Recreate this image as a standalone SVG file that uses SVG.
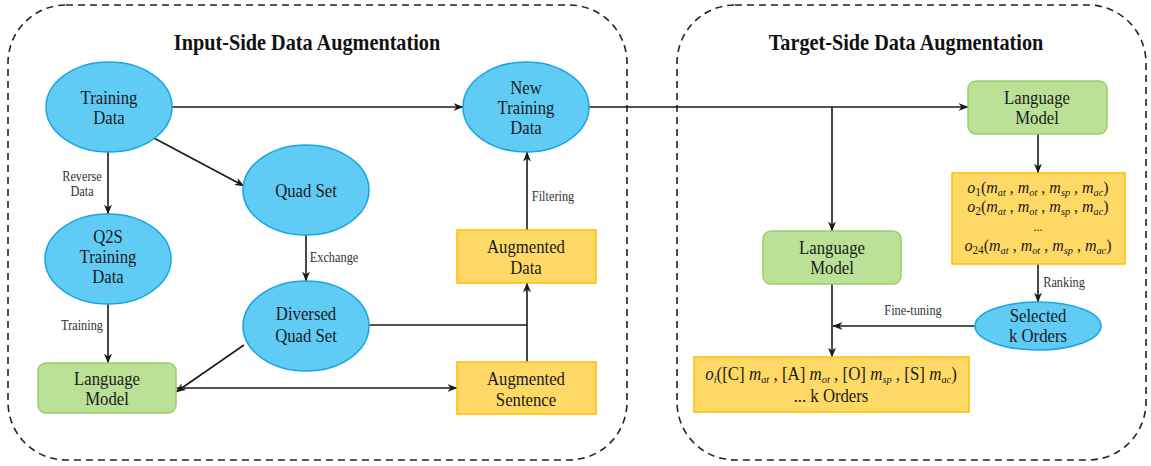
<svg xmlns="http://www.w3.org/2000/svg" width="1151" height="466" viewBox="0 0 1151 466">
  <style>
    .frame { fill: none; stroke: #222; stroke-width: 1.6; stroke-dasharray: 7 5; }
    text { font-family: "Liberation Serif", "Times New Roman", serif; fill: #1a1a1a; transform-box: fill-box; transform-origin: center; transform: scaleX(0.88); }
    .title { font-weight: bold; font-size: 23px; fill: #111; text-anchor: middle; }
    .ell { fill: #60cbf4; stroke: #18a6e3; stroke-width: 1.5; }
    .green { fill: #bbe197; stroke: #93d06c; stroke-width: 1.5; }
    .yellow { fill: #ffd966; stroke: #ffbf00; stroke-width: 1.5; }
    .lbl { font-size: 19px; text-anchor: middle; }
    .math { font-size: 17px; text-anchor: middle; transform: scaleX(0.94); }
    .math.big { font-size: 18px; }
    .math.dots { font-size: 13px; }
    .small { font-size: 14px; fill: #333; }
    .edge { fill: none; stroke: #1a1a1a; stroke-width: 1.6; }
    .arr { marker-end: url(#ah); }
    .i { font-style: italic; }
  </style>
  <defs>
    <marker id="ah" viewBox="0 0 10 8" refX="9.5" refY="4" markerWidth="10" markerHeight="8" markerUnits="userSpaceOnUse" orient="auto">
      <path d="M0,0 L10,4 L0,8 L3,4 z" fill="#1a1a1a"/>
    </marker>
  </defs>
  <rect width="1151" height="466" fill="#fff"/>

  <!-- section frames -->
  <g id="input-side">
    <rect class="frame" x="8" y="5" width="619" height="455" rx="58"/>
    <text class="title" x="307" y="50">Input-Side Data Augmentation</text>
  </g>
  <g id="target-side">
    <rect class="frame" x="677" y="5" width="469" height="455" rx="58"/>
    <text class="title" x="906" y="50">Target-Side Data Augmentation</text>
  </g>

  <!-- connectors -->
  <g id="connectors">
    <line class="edge arr" x1="172" y1="107" x2="463" y2="107"/>
    <line class="edge arr" x1="152" y1="137" x2="244" y2="186"/>
    <line class="edge arr" x1="108" y1="152" x2="108" y2="214"/>
    <line class="edge arr" x1="306" y1="235" x2="306" y2="281"/>
    <line class="edge arr" x1="108" y1="304" x2="108" y2="363"/>
    <line class="edge arr" x1="244" y1="345" x2="176" y2="392"/>
    <line class="edge arr" x1="176" y1="388" x2="457" y2="388"/>
    <line class="edge" x1="369" y1="325" x2="527" y2="325"/>
    <line class="edge arr" x1="527" y1="362" x2="527" y2="283"/>
    <line class="edge arr" x1="527" y1="230" x2="527" y2="152"/>
    <line class="edge arr" x1="589" y1="107" x2="968" y2="107"/>
    <line class="edge arr" x1="832" y1="107" x2="832" y2="231"/>
    <line class="edge arr" x1="1038" y1="134" x2="1038" y2="173"/>
    <line class="edge arr" x1="1038" y1="264" x2="1038" y2="302"/>
    <line class="edge arr" x1="975" y1="326" x2="833" y2="326"/>
    <line class="edge arr" x1="832" y1="284" x2="832" y2="357"/>

    <text class="small" x="82" y="181" text-anchor="middle">Reverse</text>
    <text class="small" x="82" y="196" text-anchor="middle">Data</text>
    <text class="small" x="82" y="330" text-anchor="middle">Training</text>
    <text class="small" x="334" y="262" text-anchor="middle">Exchange</text>
    <text class="small" x="553" y="201" text-anchor="middle">Filtering</text>
    <text class="small" x="1064" y="287" text-anchor="middle">Ranking</text>
    <text class="small" x="913" y="315" text-anchor="middle">Fine-tuning</text>
  </g>

  <!-- input-side nodes -->
  <g id="training-data">
    <ellipse class="ell" cx="109" cy="107" rx="63" ry="45"/>
    <text class="lbl" x="109" y="104">Training</text>
    <text class="lbl" x="109" y="124">Data</text>
  </g>
  <g id="new-training-data">
    <ellipse class="ell" cx="526" cy="107" rx="63" ry="45"/>
    <text class="lbl" x="526" y="94">New</text>
    <text class="lbl" x="526" y="114">Training</text>
    <text class="lbl" x="526" y="134">Data</text>
  </g>
  <g id="quad-set">
    <ellipse class="ell" cx="306" cy="190" rx="63" ry="45"/>
    <text class="lbl" x="306" y="197">Quad Set</text>
  </g>
  <g id="q2s-training-data">
    <ellipse class="ell" cx="108" cy="259" rx="63" ry="45"/>
    <text class="lbl" x="108" y="243">Q2S</text>
    <text class="lbl" x="108" y="263">Training</text>
    <text class="lbl" x="108" y="283">Data</text>
  </g>
  <g id="diversed-quad-set">
    <ellipse class="ell" cx="306" cy="326" rx="63" ry="45"/>
    <text class="lbl" x="306" y="320">Diversed</text>
    <text class="lbl" x="306" y="342">Quad Set</text>
  </g>
  <g id="language-model-left">
    <rect class="green" x="38" y="363" width="138" height="50" rx="8"/>
    <text class="lbl" x="107" y="385">Language</text>
    <text class="lbl" x="107" y="405">Model</text>
  </g>
  <g id="augmented-data">
    <rect class="yellow" x="457" y="230" width="139" height="53"/>
    <text class="lbl" x="526" y="253">Augmented</text>
    <text class="lbl" x="526" y="274">Data</text>
  </g>
  <g id="augmented-sentence">
    <rect class="yellow" x="457" y="362" width="139" height="52"/>
    <text class="lbl" x="526" y="385">Augmented</text>
    <text class="lbl" x="526" y="406">Sentence</text>
  </g>

  <!-- target-side nodes -->
  <g id="language-model-top">
    <rect class="green" x="968" y="81" width="139" height="53" rx="8"/>
    <text class="lbl" x="1037" y="104">Language</text>
    <text class="lbl" x="1037" y="124">Model</text>
  </g>
  <g id="order-candidates">
    <rect class="yellow" x="952" y="173" width="173" height="91"/>
    <text class="math" x="1038" y="193"><tspan class="i">o</tspan><tspan dy="3" font-size="12">1</tspan><tspan dy="-3">(</tspan><tspan class="i">m</tspan><tspan class="i" dy="3" font-size="11">at</tspan><tspan dy="-3"> , </tspan><tspan class="i">m</tspan><tspan class="i" dy="3" font-size="11">ot</tspan><tspan dy="-3"> , </tspan><tspan class="i">m</tspan><tspan class="i" dy="3" font-size="11">sp</tspan><tspan dy="-3"> , </tspan><tspan class="i">m</tspan><tspan class="i" dy="3" font-size="11">ac</tspan><tspan dy="-3">)</tspan></text>
    <text class="math" x="1038" y="212"><tspan class="i">o</tspan><tspan dy="3" font-size="12">2</tspan><tspan dy="-3">(</tspan><tspan class="i">m</tspan><tspan class="i" dy="3" font-size="11">at</tspan><tspan dy="-3"> , </tspan><tspan class="i">m</tspan><tspan class="i" dy="3" font-size="11">ot</tspan><tspan dy="-3"> , </tspan><tspan class="i">m</tspan><tspan class="i" dy="3" font-size="11">sp</tspan><tspan dy="-3"> , </tspan><tspan class="i">m</tspan><tspan class="i" dy="3" font-size="11">ac</tspan><tspan dy="-3">)</tspan></text>
    <text class="math dots" x="1038" y="231">...</text>
    <text class="math" x="1038" y="251"><tspan class="i">o</tspan><tspan dy="3" font-size="12">24</tspan><tspan dy="-3">(</tspan><tspan class="i">m</tspan><tspan class="i" dy="3" font-size="11">at</tspan><tspan dy="-3"> , </tspan><tspan class="i">m</tspan><tspan class="i" dy="3" font-size="11">ot</tspan><tspan dy="-3"> , </tspan><tspan class="i">m</tspan><tspan class="i" dy="3" font-size="11">sp</tspan><tspan dy="-3"> , </tspan><tspan class="i">m</tspan><tspan class="i" dy="3" font-size="11">ac</tspan><tspan dy="-3">)</tspan></text>
  </g>
  <g id="language-model-mid">
    <rect class="green" x="763" y="231" width="138" height="53" rx="8"/>
    <text class="lbl" x="832" y="254">Language</text>
    <text class="lbl" x="832" y="274">Model</text>
  </g>
  <g id="selected-orders">
    <ellipse class="ell" cx="1038" cy="326" rx="63" ry="24"/>
    <text class="lbl" x="1038" y="322">Selected</text>
    <text class="lbl" x="1038" y="342">k Orders</text>
  </g>
  <g id="ordered-targets">
    <rect class="yellow" x="694" y="357" width="275" height="55"/>
    <text class="math big" x="831" y="380"><tspan class="i">o</tspan><tspan class="i" dy="3" font-size="11">i</tspan><tspan dy="-3">([C] </tspan><tspan class="i">m</tspan><tspan class="i" dy="3" font-size="11">at</tspan><tspan dy="-3"> , [A] </tspan><tspan class="i">m</tspan><tspan class="i" dy="3" font-size="11">ot</tspan><tspan dy="-3"> , [O] </tspan><tspan class="i">m</tspan><tspan class="i" dy="3" font-size="11">sp</tspan><tspan dy="-3"> , [S] </tspan><tspan class="i">m</tspan><tspan class="i" dy="3" font-size="11">ac</tspan><tspan dy="-3">)</tspan></text>
    <text class="lbl" x="831" y="402">...  k Orders</text>
  </g>
</svg>
